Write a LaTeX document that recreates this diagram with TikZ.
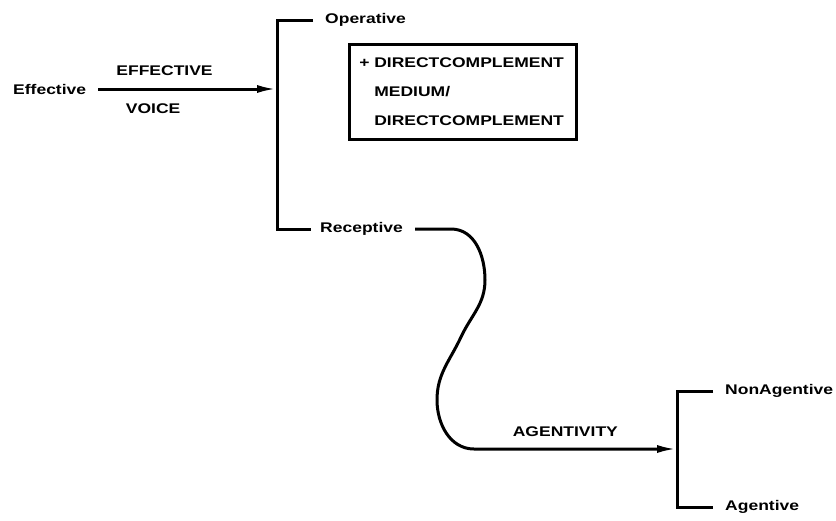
\documentclass[tikz,border=0pt]{standalone}
\usepackage{fontspec}
\setmainfont{Liberation Sans}[FakeStretch=1.25]
\usepackage{tikz}
\usetikzlibrary{arrows.meta}

\begin{document}
\begin{tikzpicture}[x=1pt, y=-1pt, lab/.style={font=\bfseries\fontsize{14}{17}\selectfont,inner sep=0pt},ln/.style={line width=3pt,line join=miter},arr/.style={ln,-{Latex[length=20pt,width=8pt]}}]
              \useasboundingbox (0,0) rectangle (836,520);

              \node[lab,anchor=west] (eff) at (13,89) {Effective};
              \node[lab,anchor=west] (op) at (325,20) {Operative};
              \node[lab,anchor=west] (rec) at (320,229) {Receptive};
              \node[lab,anchor=west] (nonag) at (725,391) {NonAgentive};
              \node[lab,anchor=west] (ag) at (725,507) {Agentive};

              \node[lab,draw,line width=2.6pt,anchor=north west,align=left,text width=177pt,inner xsep=25pt,minimum height=95pt,font=\bfseries\fontsize{14}{29}\selectfont] (dc) at (348,43) {\llap{+ }DIRECTCOMPLEMENT\\MEDIUM/\\DIRECTCOMPLEMENT};

              \coordinate (j1) at (277,89);
              \coordinate (j2) at (677,449);

              \draw[arr,shorten <=12pt] (eff.east) -- node[lab,above=12pt,pos=0.41] (lvoice1) {EFFECTIVE} node[lab,below=13pt,pos=0.35] (lvoice2) {VOICE} (j1);
              \draw[ln,shorten <=12pt,shorten >=9pt] (op.west) -| (j1) |- (rec.west);

              \draw[arr,shorten <=12pt] (rec.east) -- (451,229) to[out=0,in=90] (485,280) to[out=-90,in=65] (461,337) to[out=245,in=90] (437,400) to[out=-90,in=180] (474,449) -- node[lab,above=11pt,pos=0.45] (lagent) {AGENTIVITY} (j2);
              \draw[ln,shorten <=12pt,shorten >=12pt] (nonag.west) -| (j2) |- (ag.west);
            \end{tikzpicture}
\end{document}
